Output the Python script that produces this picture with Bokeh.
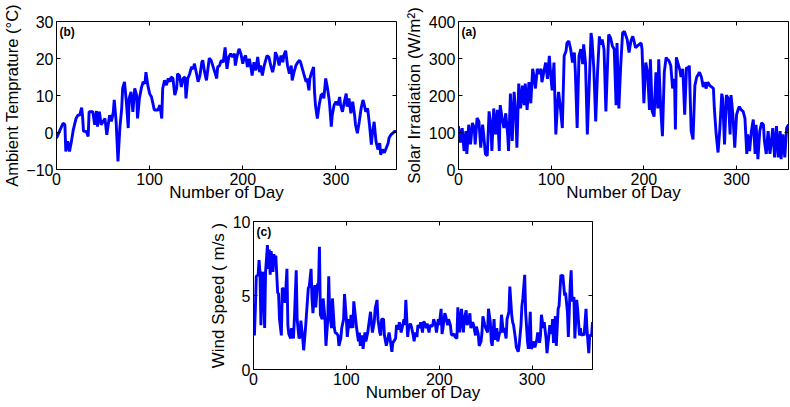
from bokeh.plotting import figure
from bokeh.layouts import column, row
from bokeh.models import Range1d, FixedTicker, LinearAxis, Label, Spacer
from bokeh.embed import file_html
from bokeh.resources import INLINE

# ---------------- data ----------------
x_ticks = [0, 100, 200, 300]

temp_days = [0, 7, 9, 10, 12, 14, 16, 18, 21, 23, 25, 27, 28, 29, 32, 34, 35, 39, 41, 43,
             44, 46, 48, 52, 54, 57, 59, 61, 62, 64, 66, 68, 70, 71, 73, 75, 77, 78, 80, 82,
             84, 86, 87, 89, 91, 93, 95, 96, 98, 100, 102, 105, 109, 111, 113, 114, 116, 118, 120, 122,
             123, 125, 127, 129, 130, 132, 134, 136, 138, 139, 141, 143, 145, 147, 148, 150, 152, 154, 156, 157,
             159, 161, 163, 164, 166, 170, 172, 173, 175, 177, 179, 181, 183, 185, 187, 189, 191, 192, 194, 196,
             198, 200, 201, 203, 205, 207, 209, 210, 212, 214, 216, 218, 219, 221, 223, 225, 226, 228, 230, 232,
             234, 235, 237, 239, 241, 243, 244, 246, 248, 250, 252, 253, 255, 257, 259, 261, 262, 264, 266, 268,
             269, 271, 272, 274, 276, 277, 278, 280, 282, 284, 286, 287, 289, 291, 293, 295, 296, 298, 300, 302,
             304, 305, 307, 309, 311, 312, 314, 316, 318, 320, 321, 323, 325, 327, 329, 330, 332, 334, 336, 338,
             339, 341, 343, 345, 347, 348, 350, 352, 354, 356, 357, 359, 361, 363, 365]
temp_vals = [-1.5, 2.5, 2.1, -5.1, -2.4, -5.1, -2.4, 0.7, 3.8, 4.7, 4.7, 6.7, 4.3, 0.3, 0.3, -1.1, 5.6, 5.6, 2.1, 5.8,
             1.6, 5.6, 2.1, 3.8, -0.6, 4.7, 3.0, 5.6, 8.8, 3.0, -7.8, 1.2, 6.5, 11.9, 13.7, 8.3, 1.2, 9.2, 11.0, 5.6,
             11.9, 10.1, 3.8, 9.2, 11.9, 13.7, 13.2, 16.3, 12.8, 10.5, 9.6, 6.1, 6.1, 7.4, 3.8, 11.9, 14.1, 12.8, 14.6, 13.7,
             15.0, 14.6, 10.1, 11.9, 15.9, 15.4, 12.3, 14.6, 15.0, 9.2, 14.6, 15.9, 17.7, 17.2, 18.6, 16.3, 13.7, 15.4, 19.0, 19.5,
             16.3, 14.1, 18.1, 20.1, 19.5, 16.3, 14.6, 17.7, 18.1, 19.5, 19.0, 23.0, 17.2, 20.4, 21.3, 20.4, 21.3, 18.1, 20.8, 22.6,
             21.3, 18.6, 19.9, 20.8, 17.7, 19.9, 17.2, 15.4, 19.0, 16.8, 20.4, 16.3, 18.1, 15.4, 18.1, 19.9, 20.8, 20.4, 18.1, 16.3,
             18.6, 21.7, 20.4, 18.1, 20.8, 19.0, 20.8, 22.1, 18.1, 15.9, 18.1, 14.1, 16.3, 18.1, 19.0, 19.5, 19.0, 17.2, 15.4, 13.7,
             14.6, 11.4, 14.6, 16.3, 17.7, 11.0, 7.4, 3.8, 7.4, 10.1, 10.5, 9.2, 14.6, 11.9, 8.3, 1.6, 4.7, 7.4, 8.3, 7.4,
             9.6, 7.4, 5.6, 8.3, 10.5, 7.0, 9.2, 5.2, 8.3, 4.7, 2.1, -0.2, 2.9, 6.5, 8.8, 7.9, 5.6, 6.5, 2.1, -3.3,
             -0.6, 2.9, -2.4, -4.6, -2.9, -6.0, -4.6, -5.5, -4.2, -2.9, -1.5, -0.6, -0.2, 0.3, 0.3]

solar_days = [0, 2, 4, 6, 8, 9, 11, 13, 15, 17, 18, 20, 22, 24, 26, 27, 29, 31, 33, 35,
              36, 38, 40, 42, 44, 45, 47, 49, 51, 53, 54, 56, 58, 60, 62, 63, 65, 67, 69, 71,
              72, 74, 76, 78, 80, 81, 83, 85, 87, 89, 90, 92, 94, 96, 98, 99, 101, 103, 105, 107,
              108, 110, 112, 114, 116, 117, 119, 121, 123, 125, 126, 128, 130, 132, 134, 135, 137, 139, 141, 143,
              144, 146, 148, 150, 152, 153, 155, 157, 159, 161, 162, 164, 166, 168, 170, 171, 173, 175, 177, 179,
              182, 184, 186, 188, 189, 191, 193, 195, 197, 198, 200, 202, 204, 206, 207, 209, 211, 213, 215, 216,
              218, 220, 222, 224, 225, 227, 229, 231, 233, 234, 235, 237, 239, 240, 242, 244, 246, 248, 249, 251,
              253, 255, 257, 258, 260, 262, 264, 266, 267, 269, 271, 273, 275, 276, 278, 280, 282, 284, 285, 287,
              289, 291, 293, 294, 296, 298, 300, 302, 303, 305, 307, 309, 311, 312, 314, 316, 318, 320, 321, 323,
              325, 327, 329, 330, 332, 334, 336, 338, 339, 341, 343, 345, 347, 348, 350, 352, 354, 356, 357]
solar_vals = [117, 73, 112, 50, 104, 42, 121, 68, 126, 112, 68, 139, 130, 59, 121, 99, 42, 37, 157, 117,
              50, 165, 95, 161, 50, 174, 139, 112, 152, 95, 50, 205, 77, 210, 139, 59, 232, 165, 227, 174,
              232, 161, 236, 179, 272, 258, 219, 272, 258, 272, 236, 263, 289, 245, 307, 272, 214, 289, 95, 183,
              210, 165, 112, 307, 320, 342, 347, 325, 289, 316, 267, 112, 307, 325, 285, 338, 289, 95, 227, 369,
              351, 272, 130, 263, 360, 338, 351, 325, 157, 298, 365, 356, 334, 325, 174, 342, 165, 281, 369, 373,
              351, 316, 347, 360, 351, 329, 334, 338, 342, 325, 179, 289, 263, 161, 298, 157, 143, 263, 165, 298,
              174, 90, 263, 303, 298, 294, 281, 219, 245, 108, 303, 285, 267, 250, 272, 148, 276, 272, 281, 104,
              81, 227, 250, 254, 263, 250, 223, 236, 219, 236, 227, 223, 219, 165, 95, 46, 112, 205, 192, 68,
              201, 192, 95, 201, 148, 59, 148, 165, 170, 161, 157, 139, 42, 95, 50, 104, 135, 42, 121, 28,
              104, 126, 121, 77, 42, 104, 42, 86, 112, 33, 117, 33, 104, 28, 95, 33, 112, 121, 117]

wind_days = [0, 1, 2, 3, 5, 6, 7, 8, 9, 10, 12, 13, 15, 16, 17, 18, 19, 21, 22, 23,
             24, 26, 27, 28, 30, 31, 33, 34, 36, 37, 38, 40, 41, 43, 44, 46, 47, 49, 50, 51,
             53, 54, 56, 57, 59, 60, 62, 63, 64, 66, 67, 69, 70, 71, 72, 74, 75, 77, 78, 80,
             81, 82, 84, 85, 87, 88, 90, 91, 92, 94, 95, 97, 98, 100, 101, 103, 104, 105, 107, 108,
             110, 111, 113, 114, 115, 117, 118, 120, 121, 123, 124, 126, 127, 128, 130, 131, 133, 134, 136, 137,
             138, 140, 141, 143, 144, 146, 147, 149, 150, 151, 153, 154, 156, 157, 159, 160, 162, 163, 164, 166,
             167, 169, 170, 172, 173, 174, 176, 177, 179, 180, 182, 183, 184, 186, 187, 189, 190, 192, 193, 194,
             196, 197, 199, 200, 202, 203, 204, 206, 207, 209, 210, 212, 213, 214, 216, 217, 219, 220, 222, 223,
             224, 226, 227, 229, 230, 232, 233, 234, 236, 237, 239, 240, 242, 243, 245, 246, 247, 249, 250, 252,
             253, 255, 256, 257, 259, 260, 262, 263, 265, 266, 267, 269, 270, 272, 273, 275, 276, 278, 279, 280,
             282, 283, 285, 286, 288, 289, 290, 292, 293, 295, 296, 298, 299, 300, 302, 303, 305, 306, 308, 309,
             310, 312, 313, 315, 316, 318, 319, 321, 322, 323, 325, 326, 328, 329, 331, 332, 333, 335, 336, 338,
             339, 341, 342, 343, 345, 346, 348, 349, 351, 352, 353, 355, 356, 358, 359, 361, 362, 364, 365]
wind_vals = [4.1, 2.3, 4.1, 6.3, 6.4, 7.4, 6.5, 3.0, 6.3, 6.6, 2.8, 6.6, 8.4, 6.8, 8.1, 6.4, 8.0, 6.6, 7.8, 7.2,
             7.7, 5.2, 5.1, 3.4, 2.3, 5.5, 5.4, 4.5, 6.8, 3.0, 2.4, 2.1, 2.8, 2.1, 3.4, 6.7, 3.4, 2.1, 2.2, 3.3,
             2.1, 1.3, 2.8, 3.7, 5.5, 5.6, 6.8, 4.8, 3.8, 5.7, 4.2, 5.8, 5.7, 8.3, 3.7, 3.4, 4.8, 3.4, 1.6, 3.4,
             6.3, 3.9, 2.8, 4.8, 2.8, 2.5, 2.4, 2.3, 1.6, 2.1, 2.8, 3.4, 5.1, 3.4, 2.2, 3.4, 2.8, 3.7, 2.8, 4.6,
             3.4, 2.8, 1.9, 2.5, 1.6, 2.3, 1.4, 2.5, 1.9, 2.5, 3.0, 3.9, 3.2, 2.5, 3.2, 4.1, 4.7, 3.4, 2.5, 2.3,
             3.4, 3.4, 2.3, 1.6, 1.9, 2.5, 2.1, 1.2, 1.8, 1.9, 2.1, 3.0, 2.7, 3.2, 2.5, 2.8, 3.4, 3.0, 4.7, 2.2,
             2.8, 3.1, 2.9, 2.3, 1.9, 2.5, 2.2, 3.0, 2.8, 3.2, 2.5, 3.2, 3.2, 2.8, 3.1, 2.5, 3.0, 2.9, 3.0, 3.4,
             3.0, 2.5, 3.4, 3.0, 4.1, 2.4, 2.8, 3.8, 3.6, 3.0, 3.4, 3.0, 2.4, 2.3, 2.4, 2.2, 2.1, 4.2, 2.5, 3.4,
             4.1, 2.5, 3.4, 4.0, 3.0, 3.4, 3.8, 2.8, 3.2, 3.0, 2.3, 2.9, 2.4, 1.6, 1.9, 2.5, 3.6, 3.0, 2.8, 2.5,
             4.1, 3.2, 1.9, 1.6, 3.4, 2.0, 2.8, 1.9, 2.5, 2.5, 3.7, 2.5, 2.8, 2.1, 3.4, 3.9, 5.6, 3.7, 3.2, 3.0,
             2.1, 1.5, 1.2, 1.6, 3.0, 4.3, 4.8, 6.4, 3.9, 1.9, 1.4, 3.9, 1.4, 1.5, 1.9, 1.5, 2.0, 2.5, 1.8, 2.3,
             3.7, 2.8, 3.2, 2.1, 1.1, 2.3, 3.0, 2.4, 3.4, 1.8, 3.6, 1.6, 4.1, 4.3, 6.4, 6.3, 6.4, 5.0, 5.2, 3.9,
             2.2, 5.7, 6.7, 4.6, 4.9, 2.1, 4.7, 4.1, 2.3, 2.8, 2.3, 2.4, 2.3, 4.1, 2.8, 1.1, 2.3, 2.3, 3.2]

FONT = "Liberation Sans"
BLUE = "#0000ff"


def make_panel(width, height, xend, yrange, yticks, borders, xs, ys,
               xlabel, ylabel, tag, ylabel_size="17px", xlabel_standoff=-5):
    left, right, top, bottom = borders
    p = figure(width=width, height=height,
               x_range=Range1d(0, xend), y_range=Range1d(*yrange),
               output_backend="svg", toolbar_location=None,
               min_border_left=left, min_border_right=right,
               min_border_top=top, min_border_bottom=bottom,
               background_fill_color="white", border_fill_color="white")
    p.grid.visible = False
    p.outline_line_color = "black"
    p.outline_line_width = 1

    p.line(xs, ys, line_color=BLUE, line_width=2.9)

    p.xaxis.ticker = FixedTicker(ticks=x_ticks)
    p.yaxis.ticker = FixedTicker(ticks=yticks)
    for ax in (p.xaxis[0], p.yaxis[0]):
        ax.major_tick_in = 4
        ax.major_tick_out = 0
        ax.minor_tick_line_color = None
        ax.axis_line_color = None
        ax.major_tick_line_color = "black"
        ax.major_label_text_font = FONT
        ax.major_label_text_font_size = "16px"
        ax.major_label_text_color = "black"
        ax.axis_label_text_font = FONT
        ax.axis_label_text_font_size = "17px"
        ax.axis_label_text_font_style = "normal"
        ax.axis_label_text_color = "black"
    p.yaxis.axis_label_text_font_size = ylabel_size
    p.xaxis.axis_label = xlabel
    p.yaxis.axis_label = ylabel
    p.xaxis.major_label_standoff = 3
    p.xaxis.axis_label_standoff = xlabel_standoff
    p.yaxis.major_label_standoff = 3
    p.yaxis.axis_label_standoff = 2

    # mirrored ticks on top and right (box style), no labels
    for loc, ticks in (("above", x_ticks), ("right", yticks)):
        ax = LinearAxis(ticker=FixedTicker(ticks=ticks),
                        major_label_text_color=None,
                        major_label_text_font_size="1px",
                        major_label_standoff=0,
                        major_tick_in=4, major_tick_out=0,
                        minor_tick_line_color=None,
                        axis_line_color=None)
        p.add_layout(ax, loc)

    p.add_layout(Label(x=0, y=yrange[1], x_offset=3, y_offset=-3, text=tag,
                       text_font=FONT, text_font_size="12px",
                       text_font_style="bold", text_baseline="top",
                       text_color="black"))
    return p


pb = make_panel(400, 206, 365, (-10, 30), [-10, 0, 10, 20, 30], (56, 4, 21, 37),
                temp_days, temp_vals, "Number of Day", "Ambient Temprature (°C)", "(b)",
                ylabel_size="16.5px")
pa = make_panel(390, 206, 356, (0, 400), [0, 100, 200, 300, 400], (58, 2, 21, 37),
                solar_days, solar_vals, "Number of Day", "Solar Irradiation (W/m²)", "(a)")
pc = make_panel(391, 201, 365, (0, 10), [0, 5, 10], (48, 4, 15, 38),
                wind_days, wind_vals, "Number of Day", "Wind Speed ( m/s )", "(c)")

layout = column(row(pb, pa), row(Spacer(width=205, height=201), pc))

open("out.html", "w").write(file_html(layout, INLINE))
